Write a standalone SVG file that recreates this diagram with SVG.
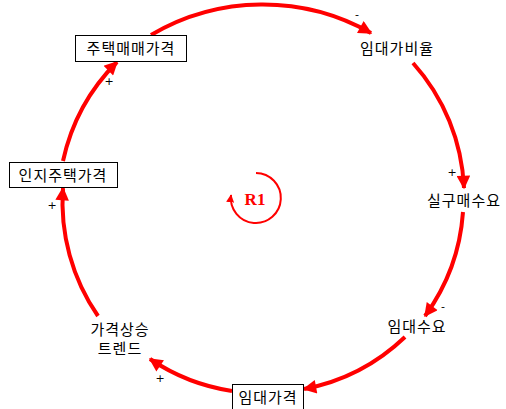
<svg xmlns="http://www.w3.org/2000/svg" width="506" height="409" viewBox="0 0 506 409">
<style>
.lbl{font-family:"Noto Sans CJK KR","Noto Sans",sans-serif;font-size:15px;letter-spacing:1px;fill:#000;text-anchor:middle}
.box{fill:#fff;stroke:#000;stroke-width:1}
.link{fill:none;stroke:#f00;stroke-width:4;marker-end:url(#ah)}
.sign{font-family:"DejaVu Sans",sans-serif;font-size:11px;fill:#000;text-anchor:middle}
</style>
<defs>
<marker id="ah" viewBox="0 0 10 10" refX="9" refY="5" markerWidth="4.8" markerHeight="3.4" orient="auto" markerUnits="strokeWidth">
<path d="M0,0 L10,5 L0,10 z" fill="#f00"/>
</marker>
<marker id="ah2" viewBox="0 0 10 10" refX="9" refY="5" markerWidth="4" markerHeight="4" orient="auto" markerUnits="strokeWidth">
<path d="M0,0 L10,5 L0,10 z" fill="#f00"/>
</marker>
</defs>
<rect width="506" height="409" fill="#fff"/>
<g id="connectors">
<path class="link" d="M151,35 A220,220 0 0 1 371,33"/>
<path class="link" d="M413,63 A200,200 0 0 1 464,188"/>
<path class="link" d="M463,212 A200,200 0 0 1 425,316"/>
<path class="link" d="M405,337 A200,200 0 0 1 304,389"/>
<path class="link" d="M232,391 A200,200 0 0 1 150,359"/>
<path class="link" d="M98,316 A200,200 0 0 1 63,188"/>
<path class="link" d="M63,161 A200,200 0 0 1 117,62"/>
</g>
<g class="signs">
<text class="sign" x="357" y="18">-</text>
<text class="sign" x="452" y="176">+</text>
<text class="sign" x="443" y="310">-</text>
<text class="sign" x="160" y="382">+</text>
<text class="sign" x="52" y="209">+</text>
<text class="sign" x="109" y="85">+</text>
</g>
<g id="node-housing-price">
<rect class="box" x="75.5" y="35.5" width="111" height="26"/>
<text class="lbl" x="131" y="54">주택매매가격</text>
</g>
<g id="node-rent-ratio">
<text class="lbl" x="397" y="54">임대가비율</text>
</g>
<g id="node-purchase-demand">
<text class="lbl" x="464" y="206">실구매수요</text>
</g>
<g id="node-rent-demand">
<text class="lbl" x="417" y="332">임대수요</text>
</g>
<g id="node-rent-price">
<rect class="box" x="232.5" y="384.5" width="71" height="30"/>
<text class="lbl" x="268" y="403">임대가격</text>
</g>
<g id="node-trend">
<text class="lbl" x="120" y="335">가격상승</text>
<text class="lbl" x="120" y="354">트렌드</text>
</g>
<g id="node-perceived-price">
<rect class="box" x="9.5" y="162.5" width="108" height="25"/>
<text class="lbl" x="63" y="181">인지주택가격</text>
</g>
<g id="loop-r1">
<path d="M256,173 A25,25 0 1 1 231,195" fill="none" stroke="#f00" stroke-width="2" marker-end="url(#ah2)"/>
<text x="255" y="205" font-family="Liberation Serif,serif" font-weight="bold" font-size="17" fill="#f00" text-anchor="middle">R1</text>
</g>
</svg>
